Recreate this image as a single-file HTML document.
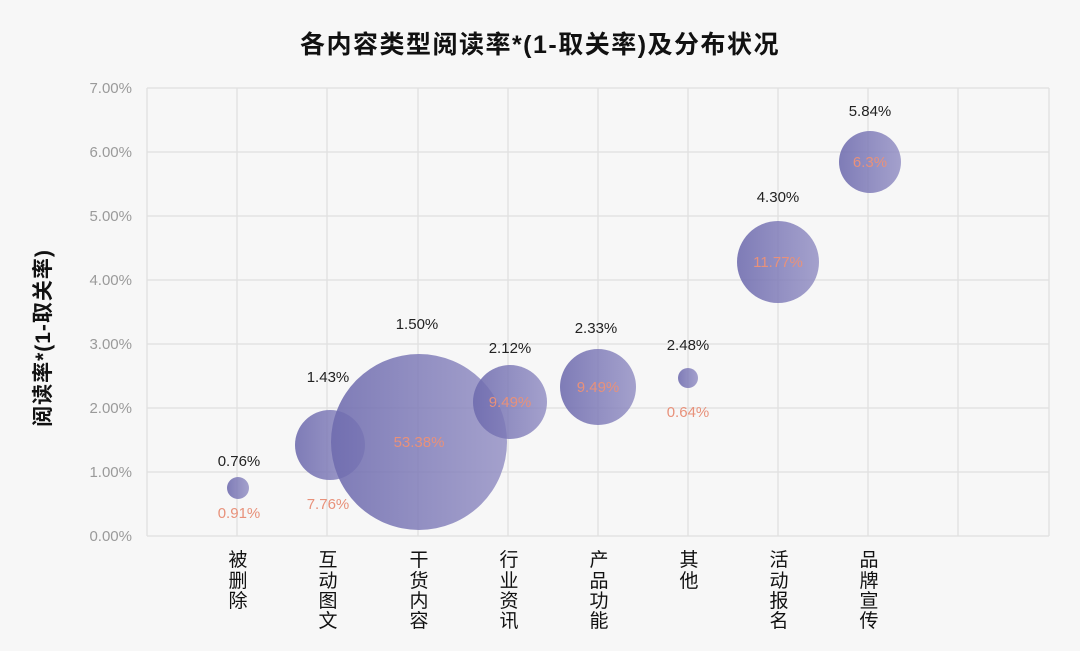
<!DOCTYPE html>
<html><head><meta charset="utf-8"><style>
html,body{margin:0;padding:0;background:#f7f7f7;}
svg{display:block;font-family:"Liberation Sans","Noto Sans CJK SC",sans-serif;}
</style></head><body>
<svg width="1080" height="651" viewBox="0 0 1080 651">
<defs>
<linearGradient id="g" x1="0" y1="0" x2="1" y2="0">
<stop offset="0" stop-color="#6e6bae" stop-opacity="0.88"/>
<stop offset="1" stop-color="#8c88c0" stop-opacity="0.78"/>
</linearGradient>
</defs>
<rect width="1080" height="651" fill="#f7f7f7"/>
<text x="540" y="53" text-anchor="middle" font-size="25" font-weight="bold" fill="#111" letter-spacing="1.5">各内容类型阅读率*(1-取关率)及分布状况</text>
<g stroke="#e0e0e0" stroke-width="1.3">
<line x1="147" y1="88" x2="1049" y2="88"/><line x1="147" y1="152" x2="1049" y2="152"/>
<line x1="147" y1="216" x2="1049" y2="216"/><line x1="147" y1="280" x2="1049" y2="280"/>
<line x1="147" y1="344" x2="1049" y2="344"/><line x1="147" y1="408" x2="1049" y2="408"/>
<line x1="147" y1="472" x2="1049" y2="472"/><line x1="147" y1="536" x2="1049" y2="536"/>
<line x1="147" y1="88" x2="147" y2="536"/><line x1="237" y1="88" x2="237" y2="536"/>
<line x1="327" y1="88" x2="327" y2="536"/><line x1="418" y1="88" x2="418" y2="536"/>
<line x1="508" y1="88" x2="508" y2="536"/><line x1="598" y1="88" x2="598" y2="536"/>
<line x1="688" y1="88" x2="688" y2="536"/><line x1="778" y1="88" x2="778" y2="536"/>
<line x1="868" y1="88" x2="868" y2="536"/><line x1="958" y1="88" x2="958" y2="536"/>
<line x1="1049" y1="88" x2="1049" y2="536"/>
</g>
<g font-size="15" fill="#9a9a9a" text-anchor="end">
<text x="132" y="93">7.00%</text><text x="132" y="157">6.00%</text><text x="132" y="221">5.00%</text>
<text x="132" y="285">4.00%</text><text x="132" y="349">3.00%</text><text x="132" y="413">2.00%</text>
<text x="132" y="477">1.00%</text><text x="132" y="541">0.00%</text>
</g>
<text transform="translate(50,338) rotate(-90)" text-anchor="middle" font-size="21" font-weight="bold" fill="#111" letter-spacing="1">阅读率*(1-取关率)</text>
<g fill="url(#g)">
<circle cx="238" cy="488" r="11"/>
<circle cx="330" cy="445" r="35"/>
<circle cx="419" cy="442" r="88"/>
<circle cx="510" cy="402" r="37"/>
<circle cx="598" cy="387" r="38"/>
<circle cx="688" cy="378" r="10"/>
<circle cx="778" cy="262" r="41"/>
<circle cx="870" cy="162" r="31"/>
</g>
<g font-size="15" fill="#222" text-anchor="middle">
<text x="239" y="466">0.76%</text><text x="328" y="382">1.43%</text><text x="417" y="329">1.50%</text>
<text x="510" y="353">2.12%</text><text x="596" y="333">2.33%</text><text x="688" y="350">2.48%</text>
<text x="778" y="202">4.30%</text><text x="870" y="116">5.84%</text>
</g>
<g font-size="15" fill="#e8917a" text-anchor="middle">
<text x="239" y="518">0.91%</text><text x="328" y="509">7.76%</text><text x="419" y="447">53.38%</text>
<text x="510" y="407">9.49%</text><text x="598" y="392">9.49%</text><text x="688" y="417">0.64%</text>
<text x="778" y="267">11.77%</text><text x="870" y="167">6.3%</text>
</g>
<g font-size="19" fill="#111" text-anchor="middle">
<text x="238" y="566">被</text><text x="238" y="587">删</text><text x="238" y="607">除</text>
<text x="328" y="566">互</text><text x="328" y="587">动</text><text x="328" y="607">图</text><text x="328" y="627">文</text>
<text x="419" y="566">干</text><text x="419" y="587">货</text><text x="419" y="607">内</text><text x="419" y="627">容</text>
<text x="509" y="566">行</text><text x="509" y="587">业</text><text x="509" y="607">资</text><text x="509" y="627">讯</text>
<text x="599" y="566">产</text><text x="599" y="587">品</text><text x="599" y="607">功</text><text x="599" y="627">能</text>
<text x="689" y="566">其</text><text x="689" y="587">他</text>
<text x="779" y="566">活</text><text x="779" y="587">动</text><text x="779" y="607">报</text><text x="779" y="627">名</text>
<text x="869" y="566">品</text><text x="869" y="587">牌</text><text x="869" y="607">宣</text><text x="869" y="627">传</text>
</g>
</svg>
</body></html>
